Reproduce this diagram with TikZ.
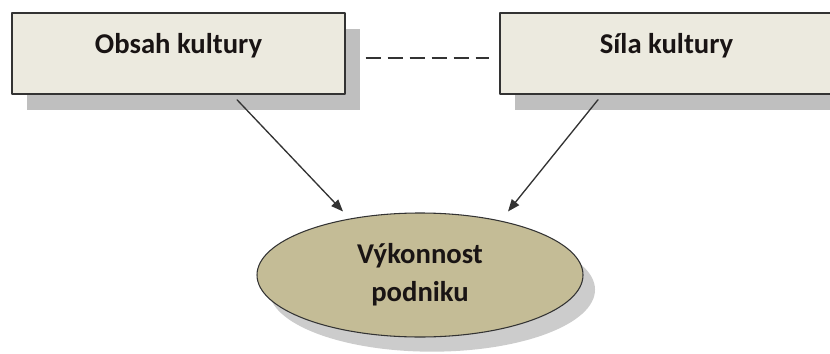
\documentclass[tikz,border=0pt]{standalone}
\usepackage{fontspec}
\setmainfont{Carlito}
\usetikzlibrary{arrows.meta,shapes.geometric,shadows}
\definecolor{eceadf}{rgb}{0.925,0.918,0.875}
\definecolor{c4bc96}{rgb}{0.769,0.737,0.588}
\definecolor{bfbfbf}{rgb}{0.75,0.75,0.75}
\definecolor{qqqqqq}{rgb}{0.2,0.2,0.2}
\definecolor{ttqqzz}{rgb}{0.1,0.08,0.08}

\begin{document}
\begin{tikzpicture}[line cap=round,line join=round,>={Triangle[length=9pt,width=7pt]},x=0.75pt,y=-0.75pt,
	kasten/.style={draw=qqqqqq,line width=1.1pt,fill=eceadf,minimum width=249.75pt,minimum height=60.75pt,inner sep=0pt,
		text height=10pt,text depth=10pt,text=ttqqzz,font=\bfseries\fontsize{21.5}{26}\selectfont,
		drop shadow={shadow xshift=11.25pt,shadow yshift=-12pt,fill=bfbfbf,opacity=1}},
	vysledek/.style={ellipse,draw=qqqqqq,line width=0.8pt,fill=c4bc96,minimum width=244.5pt,minimum height=93pt,inner sep=0pt,
		align=center,text=ttqqzz,font=\bfseries\fontsize{21.5}{28.5}\selectfont,
		drop shadow={shadow xshift=9pt,shadow yshift=-11pt,fill=bfbfbf,opacity=0.8}}]
	\useasboundingbox (0,0) rectangle (830,353);
	\node[kasten] (obsah) at (178.5,53.5) {Obsah kultury};
	\node[kasten] (sila) at (666.5,53.5) {Síla kultury};
	\node[vysledek] (vykon) at (420,275) {Výkonnost\\podniku};
	\draw[qqqqqq,line width=1.1pt,line cap=butt,dash pattern=on 11.25pt off 5.25pt] ([shift={(20,4.5)}]obsah.east) -- ([shift={(-10,4.5)}]sila.west);
	\draw[->,qqqqqq,line width=1pt] ([shift={(58.5,5)}]obsah.south) -- ([shift={(-77,-1)}]vykon.north);
	\draw[->,qqqqqq,line width=1pt] ([shift={(-68.5,5)}]sila.south) -- ([shift={(88,-1)}]vykon.north);
\end{tikzpicture}
\end{document}
